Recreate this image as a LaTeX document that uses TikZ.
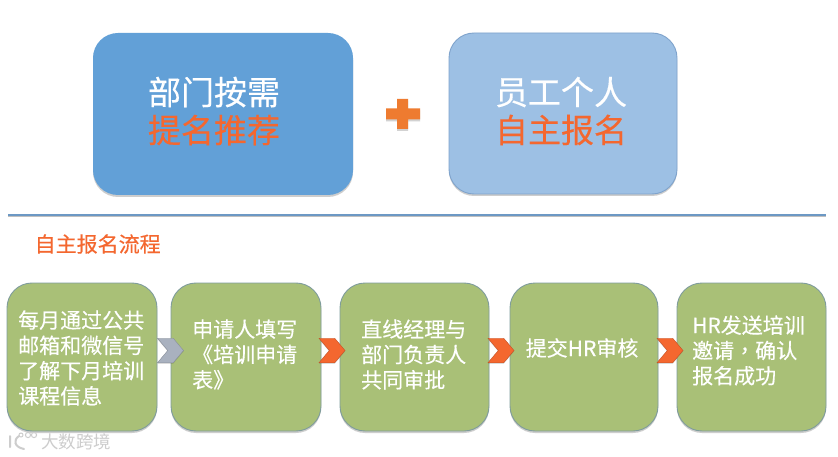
\documentclass[tikz,border=0pt]{standalone}
\usepackage{fontspec}
\setmainfont{Noto Sans CJK SC}[FakeBold=0.35]
\newfontfamily\tcfont{Noto Sans CJK TC}[FakeBold=0.35]
\newfontfamily\plainfont{Noto Sans CJK SC}
\usetikzlibrary{shadows,shapes.symbols}
\definecolor{blueA}{HTML}{62A0D7}
\definecolor{blueB}{HTML}{9DC0E4}
\definecolor{edgeB}{HTML}{7FA3CC}
\definecolor{greenbox}{HTML}{A9C077}
\definecolor{greenedge}{HTML}{7F9C9C}
\definecolor{orangetxt}{HTML}{F4672F}
\definecolor{orangeplus}{HTML}{EE7B30}
\definecolor{rulecol}{HTML}{6C98C4}
\definecolor{greychev}{HTML}{A9B1BF}
\definecolor{wmark}{HTML}{CDCDCD}
\tikzset{
  softshadow/.style={drop shadow={shadow xshift=0pt,shadow yshift=-2pt,opacity=.28,fill=black!70}},
  bigbox/.style={rounded corners=25pt,minimum height=162pt,inner sep=0pt,outer sep=0pt,softshadow},
  flowbox/.style={draw=greenedge,line width=.9pt,fill=greenbox,rounded corners=25pt,minimum height=148pt,inner sep=0pt,outer sep=0pt,softshadow},
  headtext/.style={align=center,inner sep=0pt,font=\fontsize{33}{38}\selectfont},
  flowtext/.style={anchor=west,align=left,inner sep=0pt,text=white,font=\fontsize{21}{25.3}\selectfont},
  chevron/.style={signal,signal from=west,signal to=east,signal pointer angle=100,minimum width=26pt,minimum height=24.5pt,inner sep=0pt,outer sep=0pt,draw=#1!80!black,line width=.4pt,fill=#1,drop shadow={shadow xshift=0pt,shadow yshift=-1pt,opacity=.2,fill=black!70}},
}
\begin{document}
\begin{tikzpicture}[x=1pt,y=-1pt]
\useasboundingbox[fill=white] (0,0) rectangle (838,457);
% top boxes
\node[bigbox,fill=blueA,minimum width=260pt] (dept) at (223,114) {};
\node[bigbox,fill=blueB,draw=edgeB,line width=.9pt,minimum width=228pt,minimum height=161pt] (self) at (563,113.5) {};
\node[headtext] (deptt) at (214,111) {\textcolor{white}{部门按需}\\\textcolor{orangetxt}{提名推荐}};
\node[headtext] (selft) at (561,111) {\textcolor{white}{员工个人}\\\textcolor{orangetxt}{自主报名}};
% plus
\fill[orangeplus,drop shadow={shadow xshift=0pt,shadow yshift=-2pt,opacity=.25,fill=black!70}]
  (397,99) -- (408,99) -- (408,108.5) -- (420,108.5) -- (420,119.5) -- (408,119.5) -- (408,129) -- (397,129) -- (397,119.5) -- (386,119.5) -- (386,108.5) -- (397,108.5) -- cycle;
% rule
\coordinate (ruleL) at (8,215);
\coordinate (ruleR) at (826,215);
\draw[black!25,line width=1.5pt] ([yshift=-1.5pt]ruleL) -- ([yshift=-1.5pt]ruleR);
\draw[rulecol,line width=2.4pt] (ruleL) -- (ruleR);
\node[anchor=west,inner sep=0pt,text=orangetxt,font=\fontsize{21}{25}\selectfont] (title) at (34.5,244) {自主报名流程};
% flow boxes
\node[flowbox,minimum width=150pt] (s1) at (82,357) {};
\node[flowbox,minimum width=150pt] (s2) at (246,357) {};
\node[flowbox,minimum width=149pt] (s3) at (414.5,357) {};
\node[flowbox,minimum width=148pt] (s4) at (584,357) {};
\node[flowbox,minimum width=149pt] (s5) at (751.5,357) {};
% flow labels
\node[flowtext] (t1) at (18,358) {每月通过公共\\邮箱和微信号\\了解下月培训\\课程信息};
\node[flowtext] (t2) at (192,354.5) {申请人填写\\《培训申请\\表》};
\node[flowtext] (t3) at (361,354.5) {直线经理与\\部门负责人\\共同审批};
\node[flowtext] (t4) at (525.5,348) {提交HR审核};
\node[flowtext] (t5) at (692,350.5) {HR发送培训\\邀请{\tcfont ，}确认\\报名成功};
% chevrons
\node[chevron=greychev] (c1) at (170.5,350.5) {};
\node[chevron=orangetxt] (c2) at (332,350.5) {};
\node[chevron=orangetxt] (c3) at (501,350.5) {};
\node[chevron=orangetxt] (c4) at (670,350.5) {};
% watermark
\node[anchor=west,inner sep=0pt,text=wmark,font=\plainfont\fontsize{17.5}{20}\selectfont] (wm) at (41,441.5) {大数跨境};
\draw[wmark,line width=2pt,line cap=round] (10,436) -- (10,447) (19,436) .. controls (13,440) and (14,447) .. (24,449);
\draw[wmark,line width=1pt] (21,435) circle (2pt) (28,435) circle (2.6pt) (34,435) circle (2.6pt);
\end{tikzpicture}
\end{document}
